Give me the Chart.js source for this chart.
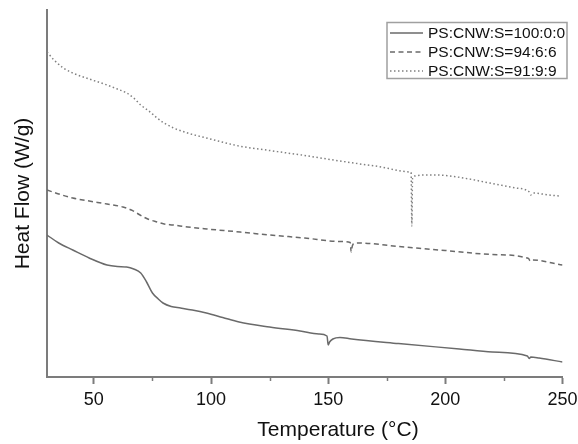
<!DOCTYPE html>
<html>
<head>
<meta charset="utf-8">
<script src="https://cdn.jsdelivr.net/npm/chart.js@4/dist/chart.umd.min.js"></script>
<style>
  html, body { margin: 0; padding: 0; background: #fff; }
  #wrap { width: 578px; height: 444px; }
</style>
</head>
<body>
<div id="wrap"><canvas id="c" width="578" height="444"></canvas></div>
<script>
// ---- data (temperature in °C, heat flow in arbitrary W/g units) ----
const seriesLabels = ['PS:CNW:S=100:0:0', 'PS:CNW:S=94:6:6', 'PS:CNW:S=91:9:9'];

const tempA = [30, 35, 41, 48, 55.6, 60, 64, 67, 70, 72.5, 75, 77.5, 79.5, 83, 87, 92, 98, 105, 112, 125, 138, 146, 149.5, 150, 150.6, 152, 155, 160, 180, 206, 220, 235, 235.8, 236.5, 240, 250];
const heatA = [1.42, 1.34, 1.27, 1.19, 1.12, 1.105, 1.10, 1.08, 1.04, 0.95, 0.84, 0.78, 0.74, 0.705, 0.69, 0.67, 0.64, 0.595, 0.55, 0.50, 0.46, 0.43, 0.41, 0.32, 0.35, 0.38, 0.395, 0.38, 0.335, 0.28, 0.25, 0.21, 0.185, 0.20, 0.19, 0.15];

const tempB = [30, 35, 41, 48, 55.6, 62.4, 66, 69.7, 73, 77, 80, 83.8, 90, 98.3, 112.4, 125, 140, 155, 159.4, 159.8, 160.3, 161, 163, 180, 200, 220, 235.5, 236.2, 237, 250];
const heatB = [1.87, 1.83, 1.79, 1.76, 1.73, 1.70, 1.67, 1.62, 1.58, 1.55, 1.53, 1.52, 1.50, 1.48, 1.45, 1.42, 1.39, 1.355, 1.345, 1.25, 1.31, 1.335, 1.34, 1.305, 1.265, 1.225, 1.185, 1.16, 1.17, 1.12];

const tempC = [30, 33, 37, 41, 48, 55.6, 60, 64, 67, 70, 73.5, 77, 80, 84, 90, 98, 112, 125, 140, 155, 170, 185, 185.4, 185.7, 186.0, 187, 190, 196, 205, 219, 230, 235.8, 236.4, 237.5, 244, 249];
const heatC = [3.25, 3.17, 3.09, 3.04, 2.98, 2.92, 2.88, 2.84, 2.79, 2.72, 2.66, 2.59, 2.54, 2.49, 2.44, 2.39, 2.31, 2.265, 2.215, 2.16, 2.11, 2.05, 2.04, 1.51, 1.99, 2.01, 2.02, 2.02, 2.00, 1.94, 1.89, 1.85, 1.82, 1.84, 1.82, 1.81];

const majorTicks = [50, 100, 150, 200, 250];
const minorTicks = [75, 125, 175, 225];
const xTitle = 'Temperature (°C)';
const yTitle = 'Heat Flow (W/g)';

const pts = (xs, ys) => xs.map((x, i) => ({ x: x, y: ys[i] }));

const FONT = "'Liberation Sans', Arial, sans-serif";
const LINE = '#6a6a6a';
const AXIS = '#7c7c7c';

const extrasPlugin = {
  id: 'extras',
  afterDraw(chart) {
    const ctx = chart.ctx;
    const xs = chart.scales.x;
    const area = chart.chartArea;
    ctx.save();
    // minor ticks
    ctx.strokeStyle = AXIS;
    ctx.lineWidth = 1.5;
    minorTicks.forEach(v => {
      const px = Math.round(xs.getPixelForValue(v)) + 0.5;
      ctx.beginPath();
      ctx.moveTo(px, area.bottom);
      ctx.lineTo(px, area.bottom + 4);
      ctx.stroke();
    });
    // x title
    ctx.fillStyle = '#111';
    ctx.font = '21px ' + FONT;
    ctx.textAlign = 'center';
    ctx.textBaseline = 'middle';
    ctx.fillText(xTitle, 338, 430);
    // legend box
    const bx = 387, by = 22.5, bw = 180, bh = 56;
    ctx.strokeStyle = '#a0a0a0';
    ctx.lineWidth = 1.5;
    ctx.strokeRect(bx, by, bw, bh);
    const rows = [33, 52, 71];
    chart.data.datasets.forEach((ds, i) => {
      const y = rows[i];
      ctx.save();
      ctx.strokeStyle = ds.borderColor;
      ctx.lineWidth = ds.borderWidth;
      ctx.setLineDash(ds.borderDash || []);
      ctx.beginPath();
      ctx.moveTo(390, y);
      ctx.lineTo(423, y);
      ctx.stroke();
      ctx.restore();
      ctx.fillStyle = '#111';
      ctx.font = '15.5px ' + FONT;
      ctx.textAlign = 'left';
      ctx.textBaseline = 'middle';
      ctx.fillText(ds.label, 428, y + 1);
    });
    ctx.restore();
  }
};

new Chart(document.getElementById('c'), {
  type: 'line',
  data: {
    datasets: [
      { label: seriesLabels[0], data: pts(tempA, heatA), borderColor: LINE, borderWidth: 1.5, borderDash: [], pointRadius: 0, fill: false, cubicInterpolationMode: 'monotone' },
      { label: seriesLabels[1], data: pts(tempB, heatB), borderColor: LINE, borderWidth: 1.5, borderDash: [5, 3.5], pointRadius: 0, fill: false, cubicInterpolationMode: 'monotone' },
      { label: seriesLabels[2], data: pts(tempC, heatC), borderColor: '#808080', borderWidth: 1.5, borderDash: [1.5, 2.5], pointRadius: 0, fill: false, cubicInterpolationMode: 'monotone' }
    ]
  },
  options: {
    responsive: false,
    animation: false,
    devicePixelRatio: 1,
    layout: { padding: { top: 10, right: 15.5, left: 0, bottom: 0 } },
    plugins: { legend: { display: false }, tooltip: { enabled: false } },
    scales: {
      x: {
        type: 'linear',
        min: 30, max: 250,
        afterBuildTicks: (scale) => { scale.ticks = majorTicks.map(v => ({ value: v })); },
        afterFit: (scale) => { scale.height = 67; scale.paddingRight = 0; scale.paddingLeft = 0; },
        ticks: { font: { size: 18, family: FONT }, color: '#111', padding: 5, maxRotation: 0, autoSkip: false },
        grid: { display: true, drawOnChartArea: false, drawTicks: true, tickLength: 7, tickColor: AXIS, tickWidth: 2 },
        border: { display: true, color: AXIS, width: 2 }
      },
      y: {
        type: 'linear',
        min: 0, max: 3.67,
        afterFit: (scale) => { scale.width = 47; scale.paddingTop = 0; scale.paddingBottom = 0; },
        ticks: { display: false },
        grid: { display: false, drawTicks: false },
        border: { display: true, color: AXIS, width: 2 },
        title: { display: true, text: yTitle, font: { size: 21, family: FONT }, color: '#111', padding: { top: 11, bottom: 0 } }
      }
    }
  },
  plugins: [extrasPlugin]
});
</script>
</body>
</html>
